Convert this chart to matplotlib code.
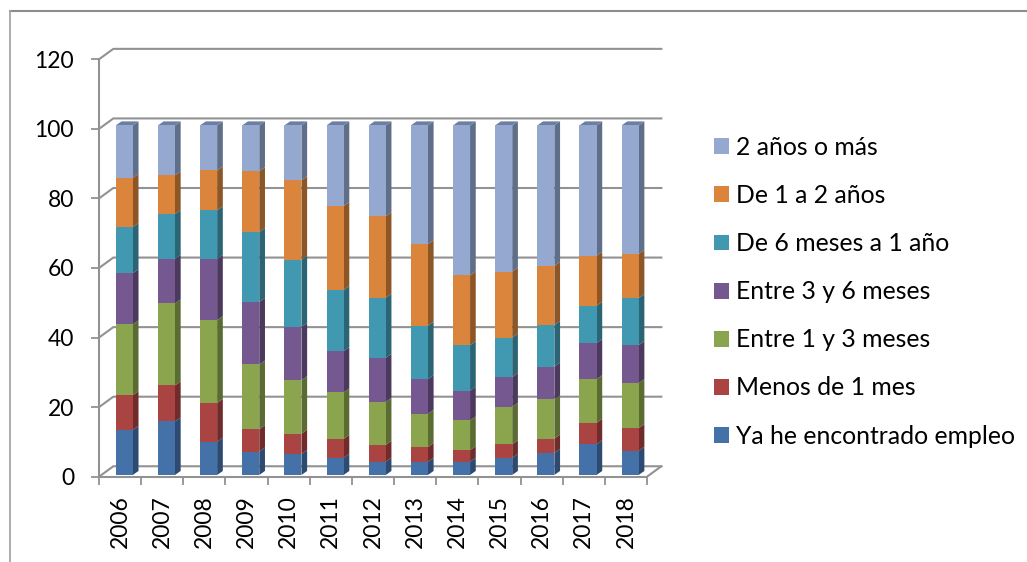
import numpy as np
import matplotlib
matplotlib.use('Agg')
import matplotlib.pyplot as plt
from matplotlib.lines import Line2D
from matplotlib.patches import Patch

plt.rcParams['font.family'] = ['Lato', 'DejaVu Sans']

years = ['2006', '2007', '2008', '2009', '2010', '2011', '2012',
         '2013', '2014', '2015', '2016', '2017', '2018']

ya_empleo = [12.9, 15.3, 9.5, 6.7, 6.0, 4.9, 3.8, 3.8, 3.8, 4.9, 6.3, 8.8, 6.9]
menos_1m = [9.9, 10.3, 11.1, 6.4, 5.8, 5.4, 4.8, 4.2, 3.3, 3.9, 4.1, 6.1, 6.5]
entre_1_3 = [20.3, 23.5, 23.7, 18.5, 15.3, 13.3, 12.3, 9.5, 8.5, 10.7, 11.2, 12.5, 12.9]
entre_3_6 = [14.6, 12.7, 17.5, 17.9, 15.2, 11.8, 12.6, 9.9, 8.5, 8.5, 9.4, 10.3, 10.8]
de_6m_1a = [13.2, 12.8, 13.9, 20.0, 19.3, 17.5, 17.2, 15.3, 13.0, 11.3, 11.9, 10.7, 13.5]
de_1a_2a = [14.1, 11.1, 11.4, 17.4, 22.7, 24.0, 23.3, 23.3, 20.0, 18.9, 16.9, 14.3, 12.6]
dos_anos = [15.0, 14.3, 12.9, 13.1, 15.7, 23.1, 26.0, 34.0, 42.9, 41.8, 40.2, 37.3, 36.8]

series = [ya_empleo, menos_1m, entre_1_3, entre_3_6, de_6m_1a, de_1a_2a, dos_anos]
names = ['Ya he encontrado empleo', 'Menos de 1 mes', 'Entre 1 y 3 meses',
         'Entre 3 y 6 meses', 'De 6 meses a 1 año', 'De 1 a 2 años', '2 años o más']
colors = ['#4472A8', '#AA4442', '#8AA54D', '#74588F', '#4198B1', '#DB843C', '#95A9D0']
side_colors = ['#2D4B70', '#6F2C2B', '#5A6C32', '#4B395E', '#2A6475', '#8D5627', '#5F6F8A']
grid_color = '#929292'

W, H = 1027, 562
fig = plt.figure(figsize=(W / 100, H / 100), dpi=100)
ax = fig.add_axes([99 / W, 1 - 476.7 / H, 548 / W, 417.4 / H])
ax.set_xlim(-0.5, 12.5)
ax.set_ylim(0, 120)
ax.patch.set_alpha(0)

# 3d look: how far the back wall and the bar sides are shifted, in data units
wall_dx, wall_dy = 0.34, 3.0
bar_dx, bar_dy = 0.135, 1.15
bar_shift, bar_w = 0.1, 0.405
lift = 0.5

for v in range(0, 121, 20):
    ax.plot([-0.5, -0.5 + wall_dx, 12.5 + wall_dx],
            [v, v + wall_dy, v + wall_dy], color=grid_color, lw=1.5,
            clip_on=False, zorder=1, solid_joinstyle='miter')
ax.plot([12.5, 12.5 + wall_dx], [0, wall_dy], color=grid_color, lw=1.5, clip_on=False, zorder=1)

x = np.arange(len(years)) + bar_shift
bottom = np.full(len(years), lift)
for vals, c, sc, name in zip(series, colors, side_colors, names):
    vals = np.array(vals) * 1.005
    ax.bar(x, vals, bar_w, bottom=bottom, color=c, zorder=3, label=name)
    right = x + bar_w / 2
    for xr, b, t in zip(right, bottom, bottom + vals):
        ax.fill([xr, xr + bar_dx, xr + bar_dx, xr],
                [b, b + bar_dy, t + bar_dy, t], color=sc, lw=0, zorder=2, clip_on=False)
    bottom = bottom + vals

# top faces of the bars
for xc, t in zip(x, bottom):
    l, r = xc - bar_w / 2, xc + bar_w / 2
    ax.fill([l, r, r + bar_dx, l + bar_dx], [t, t, t + bar_dy, t + bar_dy],
            color='#6C7FA3', lw=0, zorder=2, clip_on=False)

for s in ['top', 'right']:
    ax.spines[s].set_visible(False)
for s in ['left', 'bottom']:
    ax.spines[s].set_color(grid_color)
    ax.spines[s].set_linewidth(1.5)
    ax.spines[s].set_zorder(4)

ax.set_yticks(range(0, 121, 20))
ax.tick_params(axis='y', length=6, width=1.3, color=grid_color, labelsize=16.5, pad=12)
ax.set_xticks(range(len(years)))
ax.set_xticklabels(years, rotation=90)
ax.set_xticks(np.arange(-0.5, 13), minor=True)
ax.tick_params(axis='x', which='major', length=0, labelsize=16.5, pad=13)
ax.tick_params(axis='x', which='minor', length=6, width=1.3, color=grid_color)

handles = [Patch(facecolor=c, label=n) for c, n in zip(colors, names)][::-1]
ax.legend(handles=handles, loc='upper left', bbox_to_anchor=(714 / W, 1 - 136 / H),
          bbox_transform=fig.transFigure, frameon=False, fontsize=17.8,
          handlelength=0.61, handleheight=0.61, handletextpad=0.27,
          labelspacing=1.015, borderpad=0, borderaxespad=0)

# outer frame, open on the right and bottom
fig.add_artist(Line2D([9.5 / W, 1], [1 - 11 / H, 1 - 11 / H], color='#8c8c8c', lw=1.5))
fig.add_artist(Line2D([9.5 / W, 9.5 / W], [0, 1 - 11 / H], color='#a6a6a6', lw=1.3))

fig.savefig('out.png', dpi=100)
